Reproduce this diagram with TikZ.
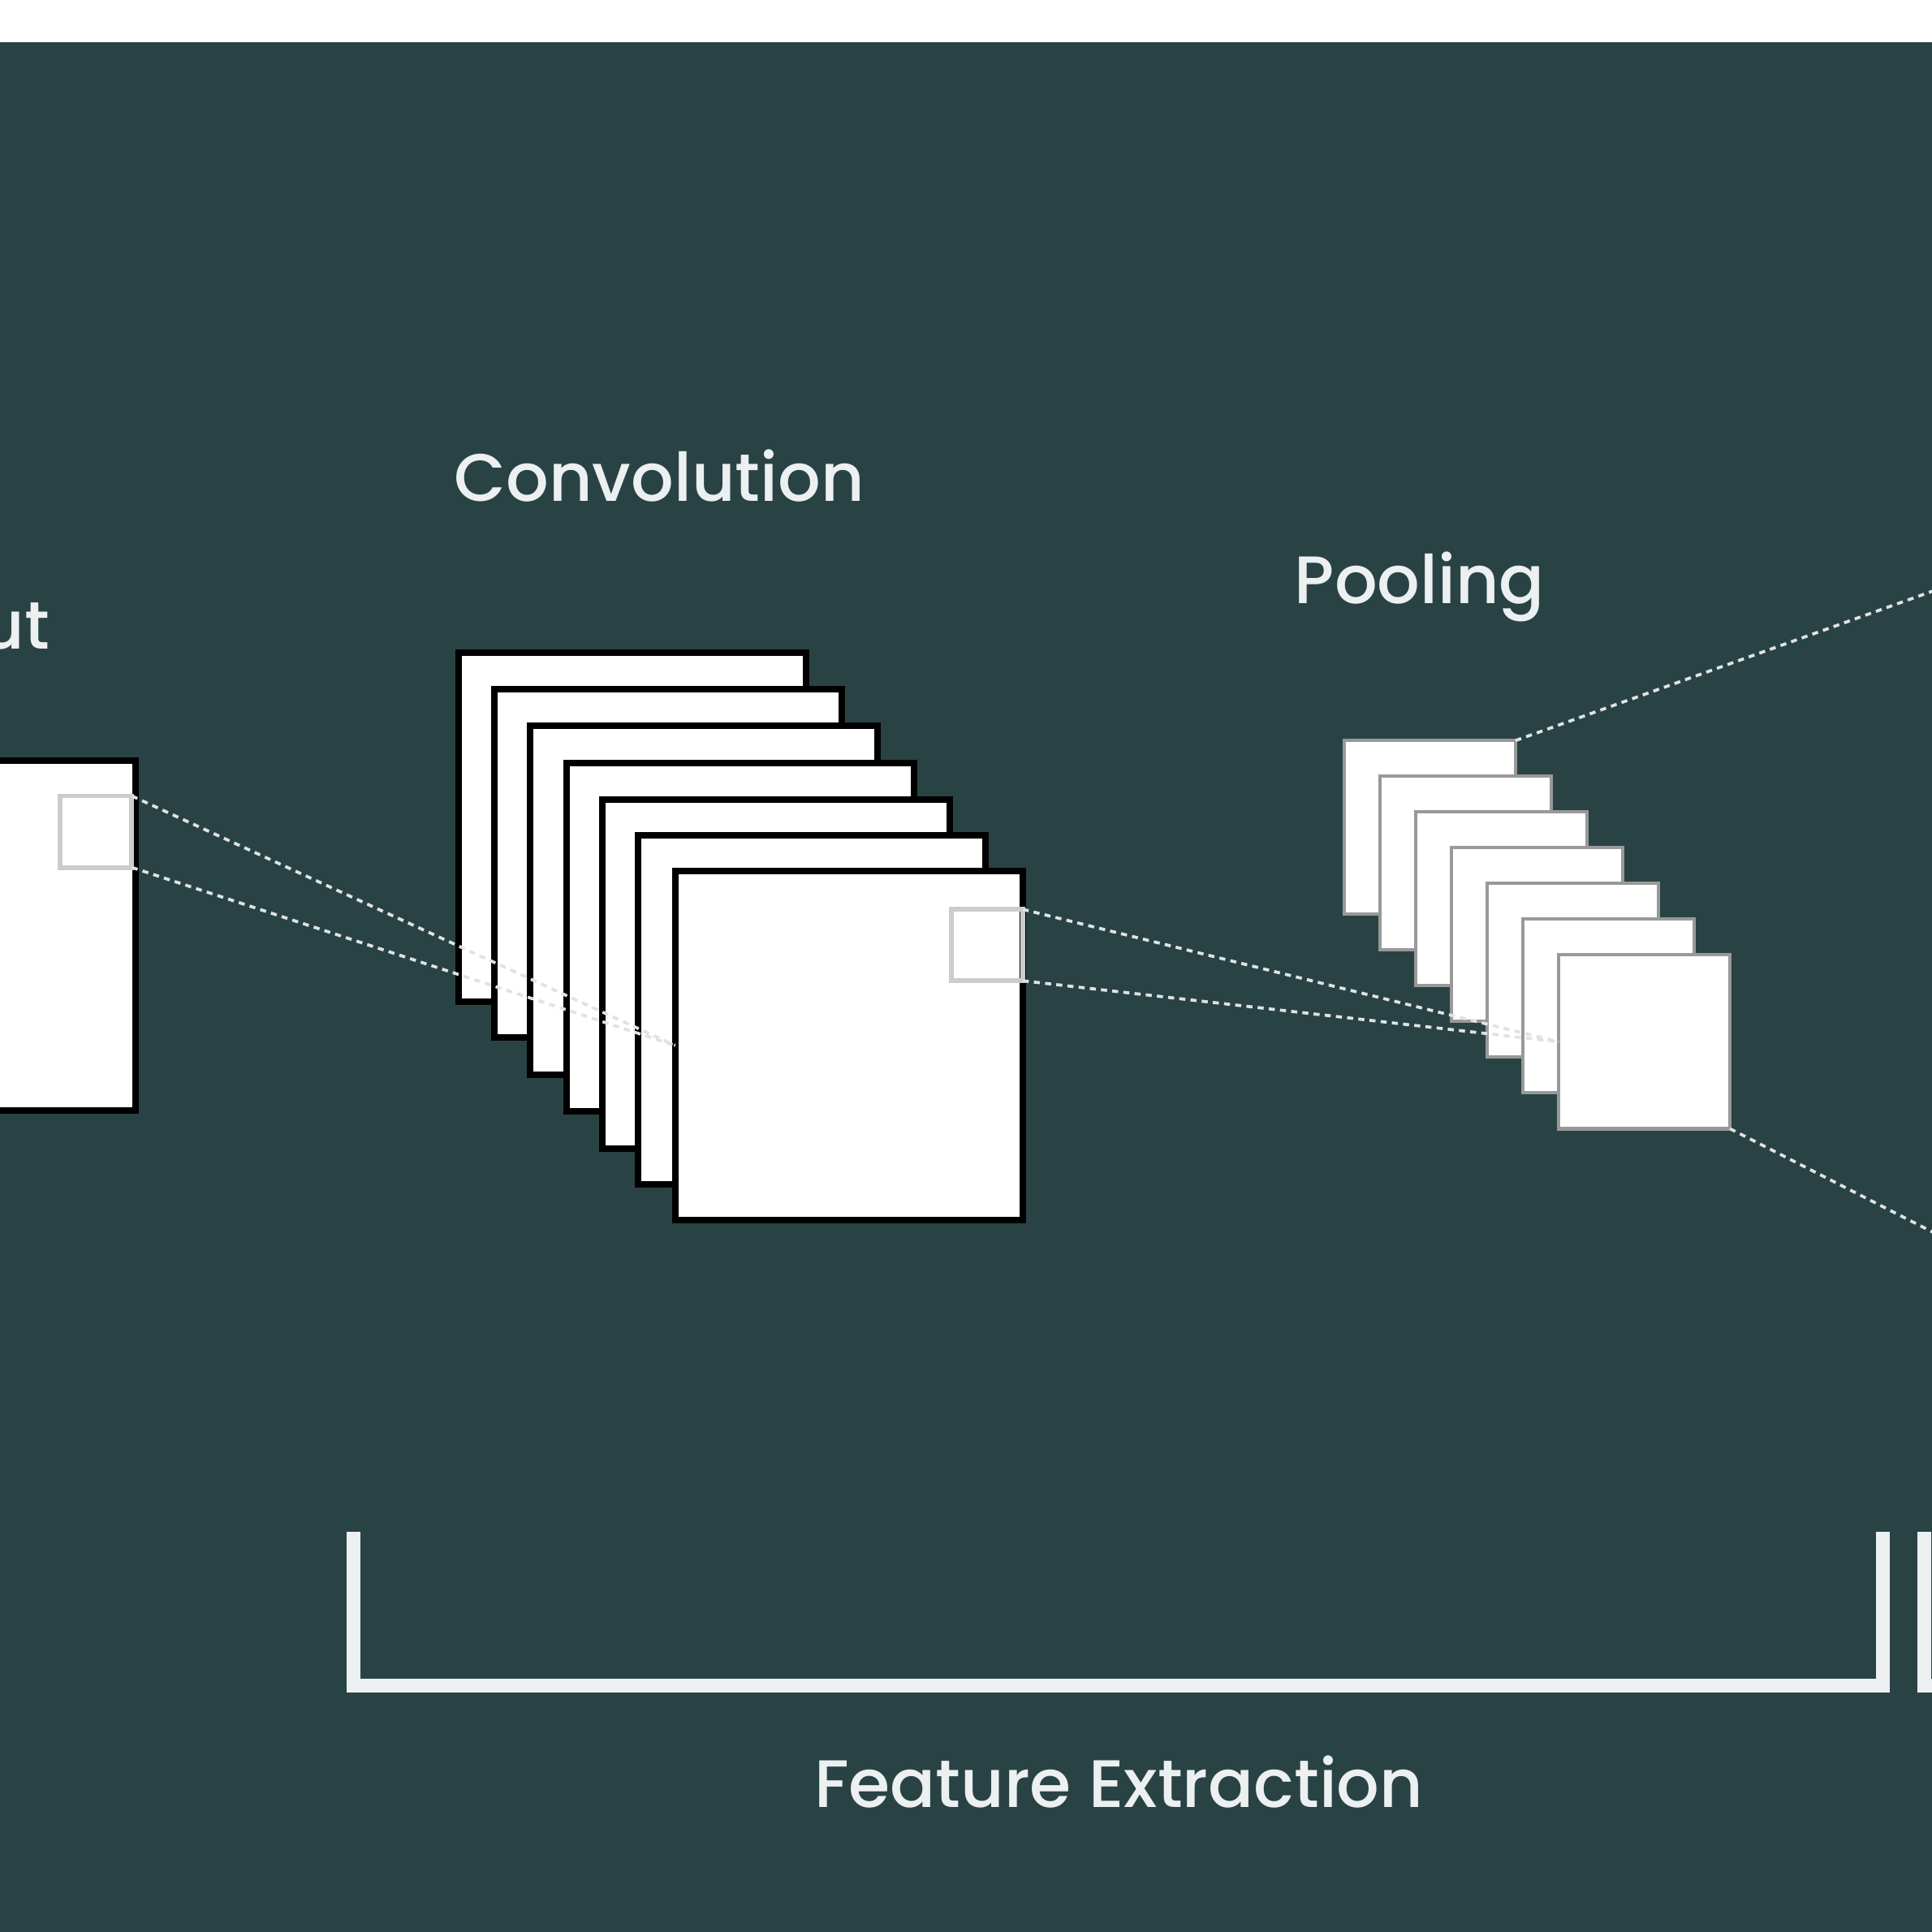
\documentclass[tikz,border=0pt]{standalone}
\usepackage{fontspec}
\setmainfont{Poppins}[UprightFont=* Medium]
\usepackage{xcolor}
\usepackage{tikz}
\usetikzlibrary{positioning}

\definecolor{slate}{RGB}{41,67,69}
\definecolor{paper}{RGB}{236,240,240}

\begin{document}
\begin{tikzpicture}[
    x=0.1mm, y=-0.1mm,
    convlayer/.style={rectangle, draw=black, fill=white, line width=1.5pt, inner sep=0pt, outer sep=0pt, minimum width=2.82cm, minimum height=2.83cm, anchor=north west},
    poollayer/.style={rectangle, draw=black!40, fill=white, line width=0.8pt, inner sep=0pt, outer sep=0pt, minimum width=1.39cm, minimum height=1.41cm, anchor=north west},
    window/.style={rectangle, draw=black!20, line width=1.1pt, inner sep=0pt, outer sep=0pt, minimum size=0.58cm, anchor=north west},
    link/.style={draw=white!85!slate, line width=0.7pt, dash pattern=on 1.4pt off 1.2pt},
    heading/.style={text=paper, font=\fontsize{15.5}{18}\selectfont, inner sep=0pt},
    bracket/.style={draw=paper, line width=3.2pt}
]
\useasboundingbox (0,0) rectangle (1568,1568);
\clip (0,0) rectangle (1568,1568);

% Background
\fill [white] (0,0) rectangle (1568,34);
\fill [slate] (0,34) rectangle (1568,1568);

% Bracket under the layers
\draw [bracket] (287,1243) -- (287,1368) -- (1528,1368) -- (1528,1243);
\draw [bracket] (1562,1243) -- (1562,1368) -- (1700,1368);

% Input image
\node [convlayer, anchor=north east, minimum width=3cm, minimum height=2.84cm] (input) at (110,617) {};
\node [window] (inwin) at (49,646) {};

% Convolution feature maps
\node [convlayer] (c1) at (372,530) {};
\node [convlayer] (c2) at (401,559) {};
\node [convlayer] (c3) at (430,589) {};
\node [convlayer] (c4) at (460,619) {};
\node [convlayer] (c5) at (489,649) {};
\node [convlayer] (c6) at (518,678) {};
\node [convlayer] (c7) at (548,707) {};
\node [window] (convwin) at (772,738) {};

% Pooling feature maps
\node [poollayer] (p1) at (1091,601) {};
\node [poollayer] (p2) at (1120,630) {};
\node [poollayer] (p3) at (1149,659) {};
\node [poollayer] (p4) at (1178,688) {};
\node [poollayer] (p5) at (1207,717) {};
\node [poollayer] (p6) at (1236,746) {};
\node [poollayer] (p7) at (1265,775) {};

% Labels
\node [heading, anchor=base east] (inputlbl) at (41,527) {Input};
\node [heading, anchor=base west] (convlbl) at (368,407) {Convolution};
\node [heading, anchor=base west] (poollbl) at (1050,490) {Pooling};
\node [heading, anchor=base] (featlbl) at (908,1467) {Feature Extraction};

% Receptive field lines
\coordinate (fcin) at (1900,361);
\coordinate (fcout) at (1900,1169);
\path [link] (inwin.north east) -- (c7.west);
\path [link] (inwin.south east) -- (c7.west);
\path [link] (convwin.north east) -- (p7.west);
\path [link] (convwin.south east) -- (p7.west);
\path [link] (p1.north east) -- (fcin);
\path [link] (p7.south east) -- (fcout);
\end{tikzpicture}
\end{document}
